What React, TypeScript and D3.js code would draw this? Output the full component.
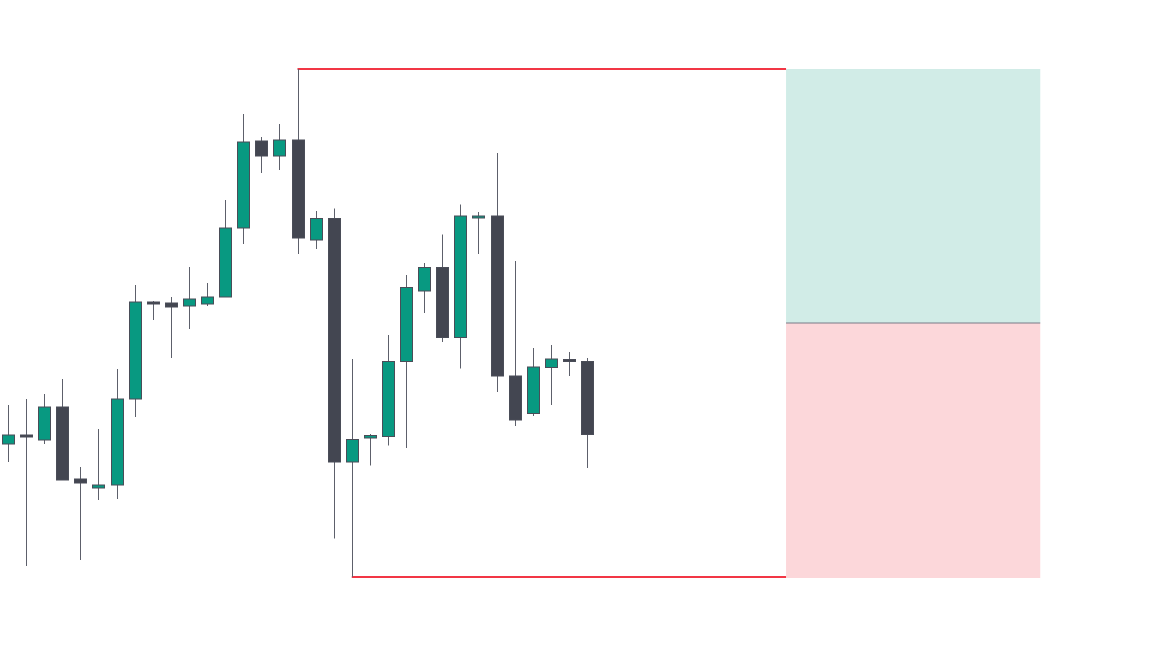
import React from "react";
import * as d3 from "d3";

// Bar index (0..32), price units (arbitrary)
const opens = [217, 226, 221, 254, 182, 173, 176, 262, 359, 358, 355, 357, 364, 433, 520, 505, 521, 421, 442.5, 199, 223, 224.5, 299.5, 370, 393.5, 323.5, 443, 445, 285, 247.5, 293.5, 301.5, 299.5];
const highs = [256, 262, 267, 282, 194, 232, 292, 376, 360, 364, 394, 378, 461, 547, 524, 537, 592, 450, 452.5, 302, 227, 326, 386, 398, 426.5, 456.5, 449, 508, 400, 313, 316, 309, 303];
const lows = [199, 95, 217, 181, 101, 161, 162, 244, 341, 303, 332, 355, 364, 417, 488, 491, 407, 412, 122.5, 84, 195.5, 215.5, 213, 348, 319, 292.5, 407, 269, 235, 245, 256, 285, 193];
const closes = [226, 224, 254, 181, 178, 176, 262, 359, 357, 354, 362, 364, 433, 519, 505, 521, 423, 442.5, 199, 221.5, 225.5, 299.5, 373.5, 393.5, 323.5, 445, 445, 285, 241, 294, 302, 299.5, 226.5];

// Long position tool
const entryPrice = 338;
const targetPrice = 592;
const stopPrice = 83;
const positionStartBar = 43;
const positionEndBar = 57.05;

// Swing high / low lines
const swingHighBar = 16;
const swingLowBar = 19;

const W = 1150;
const H = 661;

export default function App() {
  const x = d3.scaleLinear().domain([0, 32]).range([8, 587]);
  const y = d3.scaleLinear().domain([0, 661]).range([661, 0]);
  const bodyW = 12;
  const up = "#089981";
  const down = "#434651";
  const wick = "#5d606b";
  const red = "#f23645";

  const bars = opens.map((o, i) => ({ o, h: highs[i], l: lows[i], c: closes[i], i }));

  return (
    <svg width={W} height={H} style={{ position: "absolute", left: 0, top: 0, background: "#fff" }}>
      {/* position tool */}
      <rect x={x(positionStartBar)} y={y(targetPrice)} width={x(positionEndBar) - x(positionStartBar)} height={y(entryPrice) - y(targetPrice)} fill="rgba(8,153,129,0.19)" />
      <rect x={x(positionStartBar)} y={y(entryPrice)} width={x(positionEndBar) - x(positionStartBar)} height={y(stopPrice) - y(entryPrice)} fill="rgba(242,54,69,0.2)" />
      <line x1={x(positionStartBar)} x2={x(positionEndBar)} y1={y(entryPrice)} y2={y(entryPrice)} stroke="#787b86" strokeWidth={1} />

      {/* swing lines */}
      <line x1={x(swingHighBar)} x2={x(positionStartBar)} y1={y(highs[swingHighBar])} y2={y(highs[swingHighBar])} stroke={red} strokeWidth={2} />
      <line x1={x(swingLowBar)} x2={x(positionStartBar)} y1={y(lows[swingLowBar])} y2={y(lows[swingLowBar])} stroke={red} strokeWidth={2} />

      {/* candles */}
      {bars.map((b) => {
        const cx = Math.round(x(b.i)) + 0.5;
        const top = y(Math.max(b.o, b.c));
        const bot = y(Math.min(b.o, b.c));
        const isUp = b.c >= b.o;
        return (
          <g key={b.i}>
            <line x1={cx} x2={cx} y1={y(b.h)} y2={y(b.l)} stroke={wick} strokeWidth={1} />
            <rect x={cx - bodyW / 2} y={top} width={bodyW} height={Math.max(bot - top, 1.5)} fill={isUp ? up : down} stroke="#4a4d58" strokeWidth={1} />
          </g>
        );
      })}
    </svg>
  );
}
